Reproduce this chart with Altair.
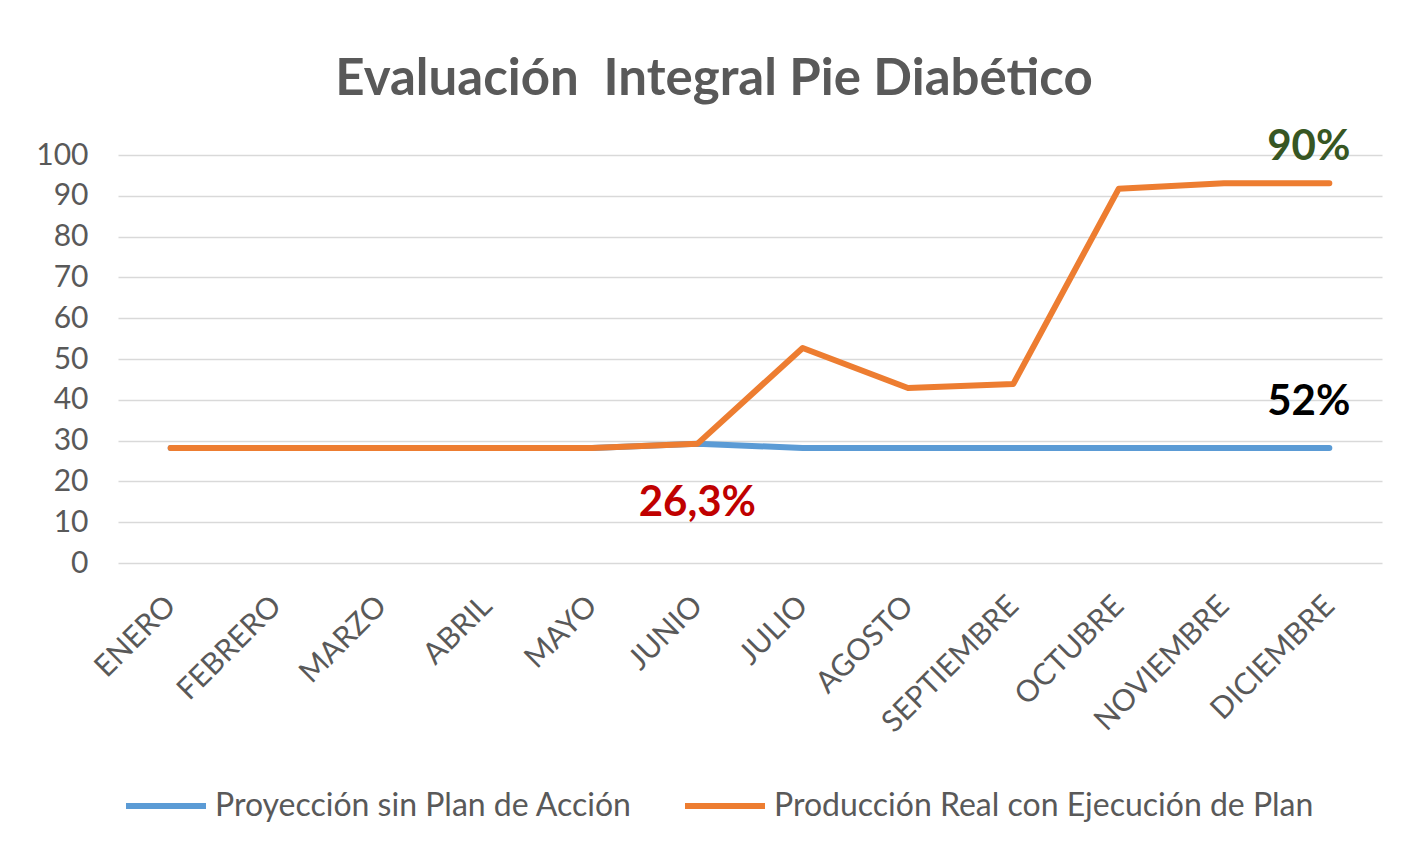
import altair as alt
import pandas as pd

months = ["ENERO", "FEBRERO", "MARZO", "ABRIL", "MAYO", "JUNIO", "JULIO",
          "AGOSTO", "SEPTIEMBRE", "OCTUBRE", "NOVIEMBRE", "DICIEMBRE"]
proyeccion = [28.2, 28.2, 28.2, 28.2, 28.2, 29.2, 28.2, 28.2, 28.2, 28.2, 28.2, 28.2]
produccion = [28.2, 28.2, 28.2, 28.2, 28.2, 29.2, 52.7, 42.9, 43.9, 91.7, 93.1, 93.1]
series_names = ["Proyección sin Plan de Acción", "Producción Real con Ejecución de Plan"]
series_colors = ["#5B9BD5", "#ED7D31"]

# annotations
ann_left_text = ["26,3%"]
ann_left_month = ["JUNIO"]
ann_left_value = [14.7]
ann_left_color = ["#C00000"]
ann_right_text = ["52%", "90%"]
ann_right_month = ["DICIEMBRE", "DICIEMBRE"]
ann_right_value = [39.5, 102.0]
ann_right_color = ["#000000", "#375623"]

rows = []
for i, m in enumerate(months):
    rows.append({"mes": m, "serie": series_names[0], "valor": proyeccion[i], "orden": 0})
for i, m in enumerate(months):
    rows.append({"mes": m, "serie": series_names[1], "valor": produccion[i], "orden": 1})
df = pd.DataFrame(rows)

ann_l = pd.DataFrame({"texto": ann_left_text, "mes": ann_left_month,
                      "valor": ann_left_value, "color": ann_left_color})
ann_r = pd.DataFrame({"texto": ann_right_text, "mes": ann_right_month,
                      "valor": ann_right_value, "color": ann_right_color})

FONT = "Lato"
GRAY = "#595959"

x_enc = alt.X("mes:N", sort=months, scale=alt.Scale(domain=months, paddingOuter=0.5),
              axis=alt.Axis(title=None, labelAngle=-45, labelAlign="right",
                            labelBaseline="middle", labelPadding=38, ticks=False,
                            domain=False, grid=False, labelFontSize=30,
                            labelFont=FONT, labelColor=GRAY))
y_enc = alt.Y("valor:Q", scale=alt.Scale(domain=[0, 100], nice=False),
              axis=alt.Axis(title=None, values=list(range(0, 101, 10)), ticks=False,
                            domain=False, grid=True, gridColor="#D9D9D9", gridWidth=1.5,
                            labelPadding=30, labelFontSize=30, labelFont=FONT,
                            labelColor=GRAY))

lines = alt.Chart(df).mark_line(strokeWidth=6, strokeCap="round", strokeJoin="round").encode(
    x=x_enc,
    y=y_enc,
    color=alt.Color("serie:N", scale=alt.Scale(domain=series_names, range=series_colors),
                    legend=alt.Legend(title=None, orient="none", direction="horizontal",
                                      legendX=5, legendY=608, symbolType="stroke",
                                      symbolSize=6400, symbolStrokeWidth=6,
                                      labelFontSize=32, labelFont=FONT, labelColor=GRAY,
                                      labelLimit=800, labelOffset=6, columnPadding=40)),
    order=alt.Order("orden:Q"),
    detail="serie:N",
)

text_l = alt.Chart(ann_l).mark_text(font=FONT, fontWeight="bold", fontSize=42,
                                    align="center", baseline="middle").encode(
    x=alt.X("mes:N", sort=months),
    y=alt.Y("valor:Q"),
    text="texto:N",
    color=alt.Color("color:N", scale=None),
)
text_r = alt.Chart(ann_r).mark_text(font=FONT, fontWeight="bold", fontSize=42,
                                    align="right", baseline="middle", dx=21).encode(
    x=alt.X("mes:N", sort=months),
    y=alt.Y("valor:Q"),
    text="texto:N",
    color=alt.Color("color:N", scale=None),
)

chart = alt.layer(lines, text_l, text_r).properties(
    width=1264,
    height=408,
    title=alt.Title("Evaluación\u00a0 Integral Pie Diabético", font=FONT, fontSize=51,
                    fontWeight="bold", color=GRAY, anchor="middle", dx=-36, offset=20),
    autosize=alt.AutoSizeParams(type="none"),
    padding={"left": 110, "top": 147, "right": 19, "bottom": 286},
    background="#FFFFFF",
).configure_view(stroke=None)

chart.save("out.html", embed_options={"renderer": "svg", "actions": False})
